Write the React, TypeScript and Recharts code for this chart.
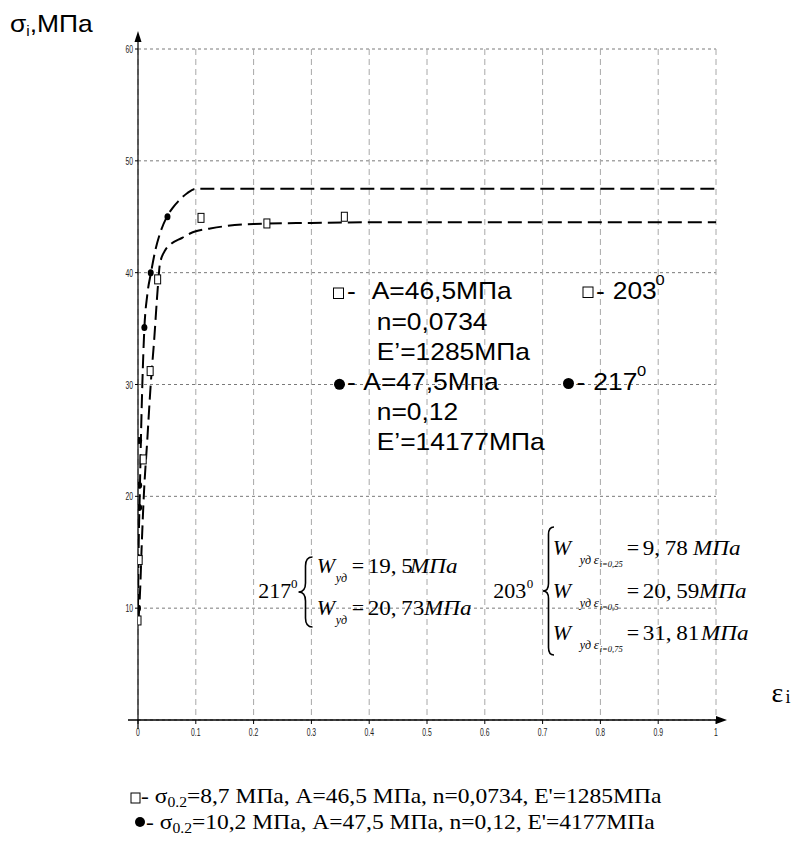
import React from 'react';
import { ComposedChart, Line, Scatter, XAxis, YAxis, CartesianGrid, ReferenceLine } from 'recharts';

// ---- data ----
const xTicks = [0, 0.1, 0.2, 0.3, 0.4, 0.5, 0.6, 0.7, 0.8, 0.9, 1];
const yTicks = [10, 20, 30, 40, 50, 60];

// fitted curve, 217° (A=47,5 MPa)
const curve217Eps = [0, 0.001, 0.003, 0.005, 0.0075, 0.011, 0.016, 0.0225, 0.03, 0.04, 0.05, 0.06, 0.07, 0.085, 0.1, 0.2, 0.4, 0.6, 0.8, 1.0];
const curve217Sigma = [10, 15, 20, 25, 30, 35, 38, 40, 42, 43.8, 45, 45.8, 46.4, 47.1, 47.5, 47.5, 47.5, 47.5, 47.5, 47.5];

// fitted curve, 203° (A=46,5 MPa)
const curve203Eps = [0.001, 0.004, 0.006, 0.01, 0.016, 0.022, 0.028, 0.034, 0.038, 0.047, 0.058, 0.076, 0.09, 0.1, 0.125, 0.15, 0.2, 0.3, 0.4, 0.6, 0.8, 1.0];
const curve203Sigma = [9, 12, 15, 20, 25, 30, 34, 38.5, 40.8, 42.0, 42.6, 43.1, 43.5, 43.7, 43.95, 44.15, 44.35, 44.45, 44.5, 44.5, 44.5, 44.5];

// experimental points
const pts203Eps = [0, 0.002, 0.009, 0.021, 0.034, 0.109, 0.223, 0.357];
const pts203Sigma = [8.9, 14.3, 23.3, 31.2, 39.4, 44.9, 44.4, 45.0];
const pts217Eps = [0, 0.002, 0.002, 0.002, 0.011, 0.022, 0.051];
const pts217Sigma = [10, 19, 21, 25, 35.1, 40, 45];

const zip = (xs: number[], ys: number[]) => xs.map((x, i) => ({ x, y: ys[i] }));
const curve217 = zip(curve217Eps, curve217Sigma);
const curve203 = zip(curve203Eps, curve203Sigma);
const pts203 = zip(pts203Eps, pts203Sigma);
const pts217 = zip(pts217Eps, pts217Sigma);

const SANS = "'Liberation Sans', Arial, sans-serif";
const SERIF = "'Liberation Serif', 'Times New Roman', serif";
const THIN = '\u2009';

const YTick = (p: any) => (
  <g transform={`translate(${p.x},${p.y})`}>
    <text transform="scale(0.62,1)" textAnchor="end" dy={4} fontSize={11} fontFamily={SANS} fill="#222">
      {p.payload.value}
    </text>
  </g>
);
const XTick = (p: any) => (
  <g transform={`translate(${p.x},${p.y})`}>
    <text transform="scale(0.62,1)" textAnchor="middle" dy={10} fontSize={11} fontFamily={SANS} fill="#222">
      {p.payload.value}
    </text>
  </g>
);

const SquareDot = (p: any) => (
  <rect x={p.cx - 3} y={p.cy - 4.5} width={6} height={9} fill="#fff" stroke="#000" strokeWidth={1} />
);
const CircleDot = (p: any) => <ellipse cx={p.cx} cy={p.cy} rx={3} ry={3.5} fill="#000" />;

const YAxisArrow = (p: any) => {
  const top = Math.min(p.y1, p.y2);
  const bot = Math.max(p.y1, p.y2);
  const x = p.x1;
  return (
    <g>
      <line x1={x} y1={bot + 9} x2={x} y2={top - 12} stroke="#000" strokeWidth={1.2} />
      <polygon points={`${x},${top - 18} ${x - 3.5},${top - 7} ${x + 3.5},${top - 7}`} fill="#000" />
    </g>
  );
};
const XAxisArrow = (p: any) => {
  const left = Math.min(p.x1, p.x2);
  const right = Math.max(p.x1, p.x2);
  const y = p.y1;
  return (
    <g>
      <line x1={left - 10} y1={y} x2={right + 4} y2={y} stroke="#000" strokeWidth={1.6} />
      <polygon points={`${right + 11},${y} ${right},${y - 4} ${right},${y + 4}`} fill="#000" />
    </g>
  );
};

const T = ({ x, y, size = 24, sx = 1.1, family = SANS, italic = false, children }: any) => (
  <text
    transform={`translate(${x},${y}) scale(${sx},1)`}
    fontSize={size}
    fontFamily={family}
    fontStyle={italic ? 'italic' : 'normal'}
    fill="#000"
  >
    {children}
  </text>
);

const brace = (x: number, y0: number, y1: number, w: number) => {
  const ym = (y0 + y1) / 2;
  const xm = x + w / 2;
  const r = w / 2;
  return `M${x + w},${y0} Q${xm},${y0} ${xm},${y0 + r + 2} L${xm},${ym - r - 2} Q${xm},${ym} ${x},${ym} Q${xm},${ym} ${xm},${ym + r + 2} L${xm},${y1 - r - 2} Q${xm},${y1} ${x + w},${y1}`;
};

const Wsub = ({ x, y, eps, off = 19 }: any) => (
  <g>
    <T x={x} y={y} size={22} sx={1} family={SERIF} italic>W</T>
    <T x={x + off} y={y + 9} size={12} sx={1} family={SERIF} italic>уд</T>
    {eps ? <T x={x + off + 14} y={y + 9} size={13} sx={1} family={SERIF} italic>ε</T> : null}
    {eps ? <T x={x + off + 20} y={y + 12} size={8.5} sx={1} family={SERIF} italic>{eps}</T> : null}
  </g>
);

const Val = ({ x, y, num, unitX }: any) => (
  <g>
    <T x={x} y={y} size={22} sx={1} family={SERIF}>=</T>
    <T x={x + 16} y={y} size={22} sx={1.05} family={SERIF}>{num}</T>
    <T x={unitX} y={y} size={22} sx={1.05} family={SERIF} italic>МПа</T>
  </g>
);

const Overlay = () => (
  <svg width={793} height={855} style={{ position: 'absolute', left: 0, top: 0, pointerEvents: 'none' }}>
    {/* y-axis title */}
    <text transform="translate(10,31.7) scale(1.1,1)" fontSize={24} fontFamily={SANS} fill="#000">
      σ<tspan dy={4} fontSize={14}>i</tspan><tspan dy={-4}>,МПа</tspan>
    </text>
    {/* x-axis title */}
    <T x={771.5} y={701.7} size={28} sx={1} family={SERIF}>ε</T>
    <T x={785.5} y={703} size={18} sx={1} family={SERIF}>i</T>

    {/* parameter block */}
    <rect x={333.5} y={288} width={10} height={10.5} fill="none" stroke="#000" strokeWidth={1} />
    <T x={347} y={299}>-</T>
    <T x={371.7} y={299}>A=46,5МПа</T>
    <T x={376.7} y={329.5}>n=0,0734</T>
    <T x={376.7} y={359.5}>E’=1285МПа</T>
    <circle cx={339.5} cy={384.3} r={5.5} fill="#000" />
    <T x={347} y={390}>-</T>
    <T x={363.3} y={390}>A=47,5Мпа</T>
    <T x={376.7} y={420}>n=0,12</T>
    <T x={376.7} y={450}>E’=14177МПа</T>

    <rect x={583} y={287} width={10} height={10.5} fill="none" stroke="#000" strokeWidth={1} />
    <T x={596} y={299}>-</T>
    <T x={612.7} y={299}>203</T>
    <T x={655.5} y={285} size={15}>0</T>
    <circle cx={568.5} cy={383.5} r={5.5} fill="#000" />
    <T x={576.5} y={390}>-</T>
    <T x={593.3} y={390}>217</T>
    <T x={637} y={376} size={15}>0</T>

    {/* W, 217 */}
    <T x={258.3} y={598.3} size={22} sx={1} family={SERIF}>217</T>
    <T x={291} y={588} size={13} sx={1} family={SERIF}>0</T>
    <path d={brace(298.5, 557, 627, 14)} fill="none" stroke="#000" strokeWidth={1.6} />
    <Wsub x={316.7} y={573.3} off={19} />
    <Val x={351.7} y={573.3} num={`19,${THIN}5`} unitX={410} />
    <Wsub x={316.7} y={615} off={19} />
    <Val x={351.7} y={615} num={`20,${THIN}73`} unitX={424} />

    {/* W, 203 */}
    <T x={493.3} y={598.3} size={22} sx={1} family={SERIF}>203</T>
    <T x={526.7} y={588} size={13} sx={1} family={SERIF}>0</T>
    <path d={brace(543, 527, 655, 11)} fill="none" stroke="#000" strokeWidth={1.6} />
    <Wsub x={552.7} y={555} eps="i=0,25" off={27} />
    <Val x={626.7} y={555} num={`9,${THIN}78`} unitX={693} />
    <Wsub x={552.7} y={598.3} eps="i=0,5" off={27} />
    <Val x={626.7} y={598.3} num={`20,${THIN}59`} unitX={699} />
    <Wsub x={552.7} y={640} eps="i=0,75" off={27} />
    <Val x={626.7} y={640} num={`31,${THIN}81`} unitX={701} />

    {/* bottom caption */}
    <rect x={131} y={793} width={9} height={10} fill="none" stroke="#000" strokeWidth={1} />
    <text transform="translate(141,803) scale(1.12,1)" fontSize={21} fontFamily={SERIF} fill="#000">
      - σ<tspan dy={4} fontSize={14}>0.2</tspan><tspan dy={-4}>=8,7 МПа, A=46,5 МПа, n=0,0734, E'=1285МПа</tspan>
    </text>
    <circle cx={140} cy={822} r={5} fill="#000" />
    <text transform="translate(146,829) scale(1.12,1)" fontSize={21} fontFamily={SERIF} fill="#000">
      - σ<tspan dy={4} fontSize={14}>0.2</tspan><tspan dy={-4}>=10,2 МПа, A=47,5 МПа, n=0,12, E'=4177МПа</tspan>
    </text>
  </svg>
);

export default function App() {
  return (
    <div style={{ position: 'absolute', left: 0, top: 0, width: 793, height: 855, background: '#fff' }}>
      <ComposedChart width={793} height={855} margin={{ top: 49, right: 77, bottom: 105, left: 98 }}>
        <CartesianGrid horizontal={true} vertical={false} stroke="#7a7a7a" strokeDasharray="3 3" />
        <CartesianGrid horizontal={false} vertical={true} stroke="#a8a8a8" strokeDasharray="6 4" />
        <XAxis
          type="number"
          dataKey="x"
          domain={[0, 1]}
          ticks={xTicks}
          interval={0}
          height={30}
          axisLine={false}
          tickLine={{ stroke: '#000' }}
          tickSize={4}
          tick={<XTick />}
          allowDataOverflow
        />
        <YAxis
          type="number"
          dataKey="y"
          domain={[0, 60]}
          ticks={yTicks}
          interval={0}
          width={40}
          axisLine={false}
          tickLine={{ stroke: '#000' }}
          tickSize={3}
          tickMargin={2}
          tick={<YTick />}
          allowDataOverflow
        />
        <Line data={curve217} dataKey="y" type="monotone" stroke="#000" strokeWidth={2} strokeDasharray="14 6" dot={false} activeDot={false} isAnimationActive={false} />
        <Line data={curve203} dataKey="y" type="monotone" stroke="#000" strokeWidth={2} strokeDasharray="14 6" dot={false} activeDot={false} isAnimationActive={false} />
        <Scatter data={pts203} dataKey="y" shape={SquareDot} isAnimationActive={false} />
        <Scatter data={pts217} dataKey="y" shape={CircleDot} isAnimationActive={false} />
        <ReferenceLine x={0} stroke="#000" shape={YAxisArrow} />
        <ReferenceLine y={0} stroke="#000" shape={XAxisArrow} />
      </ComposedChart>
      <Overlay />
    </div>
  );
}
